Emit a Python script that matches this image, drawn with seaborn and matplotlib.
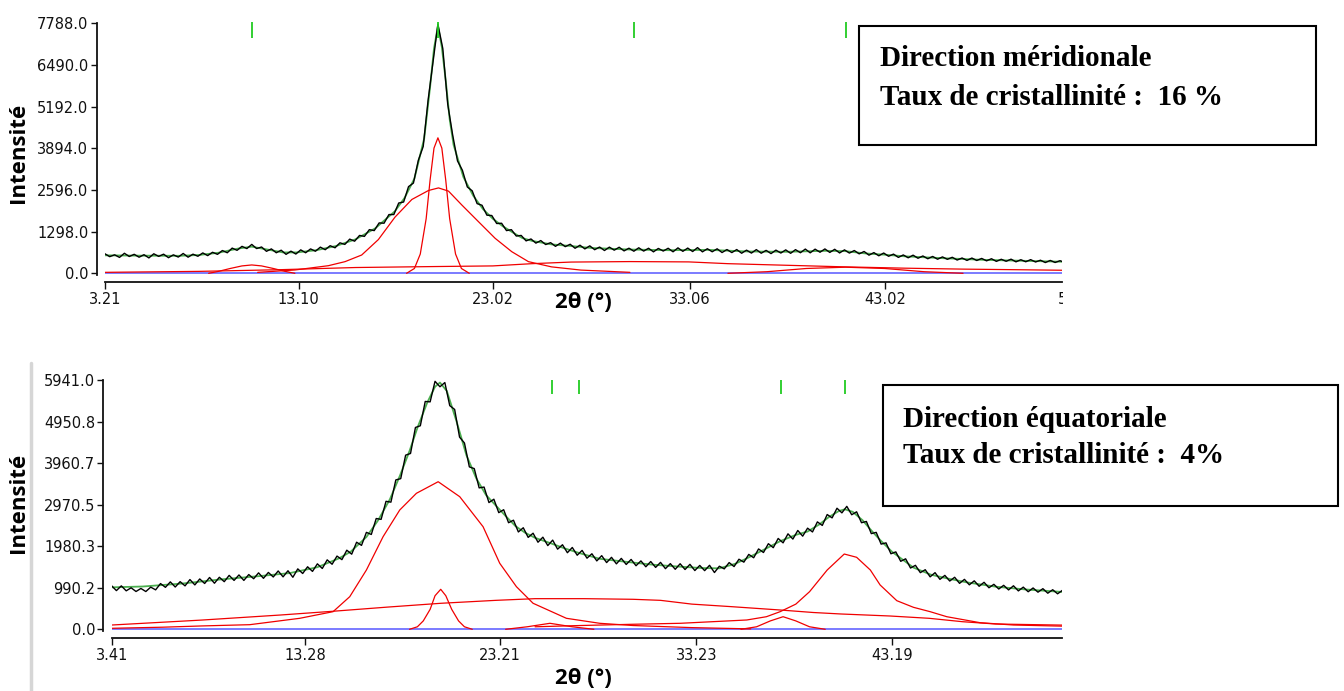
import numpy as np
import matplotlib.pyplot as plt
import seaborn as sns
from matplotlib.patches import Rectangle
from matplotlib.lines import Line2D
from matplotlib.transforms import Bbox

W, H = 1344, 691

# ---------------- meridional direction (top panel) ----------------
mer_obs_start, mer_obs_step = 3.2, 0.25
mer_obs = [610, 518, 576, 495, 624, 523, 592, 501, 580, 479,
           608, 527, 596, 486, 575, 505, 618, 502, 596, 530,
           635, 550, 655, 590, 710, 640, 785, 715, 840, 770,
           900, 770, 820, 685, 760, 640, 720, 590, 690, 600,
           730, 640, 760, 688, 815, 735, 860, 795, 950, 900,
           1065, 1000, 1180, 1150, 1360, 1330, 1570, 1560, 1830, 1830,
           2190, 2220, 2700, 2810, 3520, 3950, 5400, 6580, 7760, 7000,
           5270, 4320, 3500, 3210, 2690, 2570, 2170, 2120, 1810, 1800,
           1550, 1560, 1330, 1360, 1160, 1180, 1010, 1070, 940, 1020,
           895, 955, 840, 940, 830, 905, 780, 875, 760, 855,
           735, 818, 710, 815, 720, 812, 698, 782, 688, 795,
           692, 780, 668, 775, 693, 780, 670, 792, 684, 786,
           678, 800, 668, 765, 670, 763, 647, 740, 645, 740,
           625, 722, 630, 738, 626, 715, 614, 722, 631, 730,
           623, 737, 641, 755, 638, 752, 656, 759, 650, 748,
           634, 730, 630, 710, 605, 680, 565, 645, 545, 632,
           530, 598, 495, 572, 483, 565, 468, 540, 453, 525,
           438, 511, 435, 499, 413, 477, 401, 475, 399, 463,
           388, 454, 371, 437, 374, 440, 357, 423, 359, 426,
           352, 408, 335, 401, 337, 393, 330]
mer_fit_x = [3.21, 5, 7, 8, 9, 10, 10.7, 11.5, 12.3, 13, 14, 15, 16, 17, 18,
             18.5, 19, 19.5, 19.8, 20.0, 20.2, 20.4, 20.6, 20.8, 21.0, 21.5,
             22, 22.5, 23, 23.5, 24, 24.5, 25, 26, 27, 28, 30, 32, 34, 36,
             38, 40, 41, 42, 43, 44, 46, 48, 50, 52.1]
mer_fit = [560, 550, 545, 570, 640, 770, 830, 740, 650, 650, 720, 850, 1060,
           1400, 1930, 2350, 2950, 4200, 5800, 7000, 7700, 7050, 6000, 4800,
           4000, 3000, 2420, 2000, 1700, 1470, 1280, 1100, 1010, 900, 850,
           790, 740, 720, 730, 680, 670, 700, 690, 620, 580, 530, 470, 420,
           390, 360]
mer_sharp_x = [18.6, 19.0, 19.3, 19.6, 19.8, 20.0, 20.2, 20.4, 20.6, 20.8, 21.1, 21.4, 21.8]
mer_sharp = [0, 150, 600, 1700, 2900, 3900, 4220, 3900, 2900, 1700, 600, 150, 0]
mer_broad_x = [11, 12.9, 14.61, 15.46, 16.31, 17.16, 18.01, 18.87, 19.72, 20.23,
               20.74, 21.42, 22.27, 23.12, 23.97, 24.82, 26, 27.5, 30]
mer_broad = [30, 103, 237, 363, 570, 1050, 1750, 2300, 2580, 2660,
             2560, 2128, 1608, 1090, 673, 363, 200, 100, 30]
mer_small_x = [8.5, 9.0, 9.6, 10.2, 10.7, 11.2, 11.8, 12.4, 12.9]
mer_small = [0, 60, 150, 230, 260, 230, 150, 60, 0]
mer_halo_x = [3.21, 8, 12, 16, 20, 23, 25, 27, 30, 33, 35, 38, 41, 44, 47, 50, 52.05]
mer_halo = [30, 60, 110, 180, 210, 230, 300, 350, 365, 355, 300, 250, 200, 160, 130, 110, 95]
mer_p41_x = [35, 37, 39, 41, 43, 45, 47]
mer_p41 = [0, 50, 150, 190, 150, 50, 0]
mer_marks = [10.70, 20.19, 30.19, 41.05]
mer_xticks = [3.21, 13.10, 23.02, 33.06, 43.02]
mer_yticks = [0.0, 1298.0, 2596.0, 3894.0, 5192.0, 6490.0, 7788.0]

# ---------------- equatorial direction (bottom panel) ----------------
equ_obs_start, equ_obs_step = 3.4, 0.25
equ_obs = [1040, 922, 1035, 917, 989, 901, 973, 900, 1005, 940,
           1090, 1000, 1130, 1008, 1135, 1035, 1185, 1058, 1200, 1092,
           1235, 1098, 1240, 1135, 1285, 1165, 1295, 1165, 1305, 1205,
           1345, 1215, 1355, 1247, 1390, 1250, 1395, 1240, 1440, 1330,
           1490, 1380, 1560, 1450, 1655, 1550, 1745, 1660, 1885, 1790,
           2075, 2000, 2310, 2260, 2640, 2620, 3050, 3030, 3560, 3590,
           4150, 4190, 4810, 4850, 5430, 5420, 5910, 5780, 5880, 5330,
           5240, 4580, 4440, 3870, 3830, 3370, 3390, 3020, 3100, 2780,
           2850, 2540, 2600, 2320, 2420, 2190, 2290, 2075, 2195, 1995,
           2125, 1910, 2015, 1825, 1950, 1765, 1880, 1695, 1800, 1630,
           1755, 1590, 1715, 1560, 1690, 1545, 1665, 1515, 1630, 1490,
           1615, 1475, 1595, 1445, 1565, 1430, 1562, 1425, 1548, 1400,
           1522, 1398, 1525, 1353, 1503, 1440, 1590, 1495, 1670, 1600,
           1785, 1705, 1915, 1830, 2040, 1945, 2165, 2060, 2275, 2150,
           2355, 2220, 2410, 2320, 2560, 2475, 2735, 2655, 2885, 2775,
           2930, 2730, 2800, 2540, 2570, 2280, 2310, 2030, 2060, 1800,
           1845, 1620, 1680, 1460, 1525, 1350, 1420, 1250, 1350, 1190,
           1285, 1150, 1240, 1095, 1190, 1060, 1155, 1025, 1120, 990,
           1072, 960, 1048, 938, 1037, 915, 1005, 895, 985, 885,
           968, 860, 943, 846, 930]
equ_fit_x = [3.41, 5, 7, 9, 11, 12.5, 13.9, 15, 15.6, 16.4, 17.0, 17.6, 18.1,
             18.6, 19.0, 19.5, 19.9, 20.15, 20.5, 21.0, 21.5, 22.0, 22.5, 23.0,
             23.5, 24.0, 24.5, 25.0, 25.8, 26.5, 27.3, 28.3, 29.8, 31.0, 32.4,
             33.5, 34.4, 35.2, 35.8, 36.6, 37.5, 38.3, 38.9, 39.5, 40.0, 40.5,
             40.8, 41.2, 41.7, 42.2, 42.6, 43.2, 44.3, 45.2, 46.0, 47.0, 48.5,
             50.0, 51.9]
equ_fit = [1000, 1020, 1090, 1190, 1270, 1340, 1480, 1690, 1850, 2200, 2600,
           3100, 3650, 4250, 4800, 5400, 5780, 5880, 5680, 4950, 4150, 3600,
           3200, 2950, 2700, 2460, 2300, 2180, 2050, 1930, 1811, 1680, 1600,
           1540, 1492, 1460, 1453, 1560, 1690, 1880, 2100, 2250, 2330, 2500,
           2680, 2820, 2860, 2800, 2600, 2330, 2128, 1850, 1470, 1300, 1215,
           1120, 1015, 950, 890]
equ_main_x = [3.41, 6, 8, 10.45, 13.0, 14.7, 15.55, 16.4, 17.25, 18.1, 18.95,
              20.06, 21.16, 22.35, 23.2, 24.05, 24.9, 26.6, 28.3, 30, 33, 36]
equ_main = [24, 50, 80, 110, 262, 420, 777, 1413, 2207, 2843, 3241,
            3517, 3160, 2445, 1573, 1016, 620, 262, 143, 90, 40, 10]
equ_small_x = [18.6, 19.0, 19.3, 19.65, 19.9, 20.19, 20.45, 20.75, 21.1, 21.4, 21.8]
equ_small = [0, 60, 200, 476, 800, 953, 800, 476, 200, 60, 0]
equ_halo_x = [3.41, 8, 12, 14.7, 17.5, 20.2, 23, 25, 27.5, 30, 31.4, 33, 35,
              37.5, 39.2, 40.6, 43.1, 45.1, 46.8, 48.5, 51.9]
equ_halo = [102, 220, 340, 430, 530, 620, 690, 730, 730, 715, 690, 600, 540,
            460, 400, 365, 317, 262, 181, 126, 100]
equ_p41_x = [25, 27.3, 30, 32.4, 34, 35.8, 36.8, 37.5, 38.3, 39.0, 39.9, 40.77,
             41.4, 42.1, 42.6, 43.45, 44.3, 45.15, 46.0, 47.7, 49.4, 51.9]
equ_p41 = [60, 90, 120, 143, 180, 222, 300, 420, 600, 896, 1413, 1794,
           1716, 1413, 1056, 682, 524, 420, 300, 157, 102, 75]
equ_p37_x = [35.5, 36.3, 37.0, 37.65, 38.3, 39.0, 39.8]
equ_p37 = [0, 60, 200, 300, 200, 60, 0]
equ_p26_x = [23.5, 24.6, 25.76, 26.9, 28.0]
equ_p26 = [0, 60, 143, 60, 0]
equ_marks = [25.86, 27.24, 37.52, 40.82]
equ_xticks = [3.41, 13.28, 23.21, 33.23, 43.19]
equ_yticks = [0.0, 990.2, 1980.3, 2970.5, 3960.7, 4950.8, 5941.0]

RED = '#f00000'
GREEN_FIT = '#4caf50'
GREEN_MARK = '#22cc22'
BLUE = '#7b7bff'


def px_rect(l, t, r, b):
    return [l / W, 1 - b / H, (r - l) / W, (b - t) / H]


def curve(ax, xs, ys, color, lw, z):
    sns.lineplot(x=xs, y=ys, ax=ax, color=color, linewidth=lw, estimator=None,
                 sort=False, legend=False, zorder=z)


def panel(ax, obs_x, obs, fit_x, fit, comps, marks, mark_span, xlim, ylim, xticks, yticks):
    ax.axhline(0, color=BLUE, lw=1.4, zorder=1.5)
    for cx, cy in comps:
        curve(ax, cx, cy, RED, 0.9, 2)
    # fit under the measured pattern so the noisy black trace stays on top
    curve(ax, fit_x, fit, GREEN_FIT, 1.3, 3)
    curve(ax, obs_x, obs, 'black', 1.0, 4)
    ax.vlines(marks, mark_span[0], mark_span[1], color=GREEN_MARK, lw=1.3,
              clip_on=False, zorder=5)
    ax.set_xlim(*xlim)
    ax.set_ylim(*ylim)
    ax.set_xticks(xticks)
    ax.set_xticklabels(['%.2f' % v for v in xticks])
    ax.set_yticks(yticks)
    ax.set_yticklabels(['%.1f' % v for v in yticks])
    ax.set_xlabel('')
    ax.set_ylabel('')
    sns.despine(ax=ax, offset={'left': 6, 'bottom': 4.8})
    for s in ['left', 'bottom']:
        ax.spines[s].set_linewidth(1.3)
        ax.spines[s].set_color('#111111')
    ax.tick_params(axis='y', direction='out', length=4.5, width=1, pad=1.5,
                   labelsize=10.5, colors='#111111')
    ax.tick_params(axis='x', direction='out', length=4.8, width=1, pad=2.4,
                   labelsize=10.5, colors='#111111')
    ax.patch.set_alpha(0)


sns.set_style('ticks')
plt.rcParams['font.family'] = ['DejaVu Sans']

fig = plt.figure(figsize=(W / 100, H / 100), dpi=100)

ax1 = fig.add_axes(px_rect(105, 23.3, 1062, 275))
mer_x = np.round(mer_obs_start + mer_obs_step * np.arange(len(mer_obs)), 2)
panel(ax1, mer_x, mer_obs, mer_fit_x, mer_fit,
      [(mer_halo_x, mer_halo), (mer_p41_x, mer_p41), (mer_small_x, mer_small),
       (mer_broad_x, mer_broad), (mer_sharp_x, mer_sharp)],
      mer_marks, (7319, 7838), (3.21, 52.05), (-53, 7788), mer_xticks, mer_yticks)

ax2 = fig.add_axes(px_rect(111.7, 380, 1062, 631))
equ_x = np.round(equ_obs_start + equ_obs_step * np.arange(len(equ_obs)), 2)
panel(ax2, equ_x, equ_obs, equ_fit_x, equ_fit,
      [(equ_halo_x, equ_halo), (equ_p41_x, equ_p41), (equ_p37_x, equ_p37),
       (equ_p26_x, equ_p26), (equ_main_x, equ_main), (equ_small_x, equ_small)],
      equ_marks, (5607, 5941), (3.41, 51.875), (-40.5, 5941), equ_xticks, equ_yticks)

# cut-off last tick label of the top axis
t5 = fig.text(1058 / W, 1 - 291.7 / H, '52.98', ha='left', va='top',
              fontsize=10.5, color='#111111')
t5.set_clip_box(Bbox.from_extents(0, 0, 1063, H))
t5.set_clip_on(True)

# axis titles
lab = dict(fontfamily='Open Sans', fontweight='bold', fontsize=16, color='black')
fig.text(19 / W, 1 - 153 / H, 'Intensité', rotation=90, ha='center', va='center', **lab)
fig.text(19 / W, 1 - 503 / H, 'Intensité', rotation=90, ha='center', va='center', **lab)
fig.text(583 / W, 1 - 303 / H, '2θ (°)', ha='center', va='center', **lab)
fig.text(583 / W, 1 - 678 / H, '2θ (°)', ha='center', va='center', **lab)

# grey window edge at the left of the lower panel
fig.add_artist(Line2D([31.4 / W, 31.4 / W], [1 - 363 / H, 0], color='#d6d6d6', lw=2.5))

# annotation boxes
box = dict(fontfamily='Liberation Serif', fontweight='bold', fontsize=21,
           color='black', ha='left', va='baseline')
fig.add_artist(Rectangle((859 / W, 1 - 145 / H), (1316 - 859) / W, (145 - 26) / H,
                         transform=fig.transFigure, fill=False, lw=1.5, ec='black'))
fig.text(880 / W, 1 - 66 / H, 'Direction méridionale', **box)
fig.text(880 / W, 1 - 105 / H, 'Taux de cristallinité :  16 %', **box)

fig.add_artist(Rectangle((882.7 / W, 1 - 505.7 / H), (1338 - 882.7) / W, (505.7 - 385) / H,
                         transform=fig.transFigure, fill=False, lw=1.5, ec='black'))
fig.text(903 / W, 1 - 426.7 / H, 'Direction équatoriale', **box)
fig.text(903 / W, 1 - 463.3 / H, 'Taux de cristallinité :  4%', **box)

fig.savefig('out.png', dpi=100)
